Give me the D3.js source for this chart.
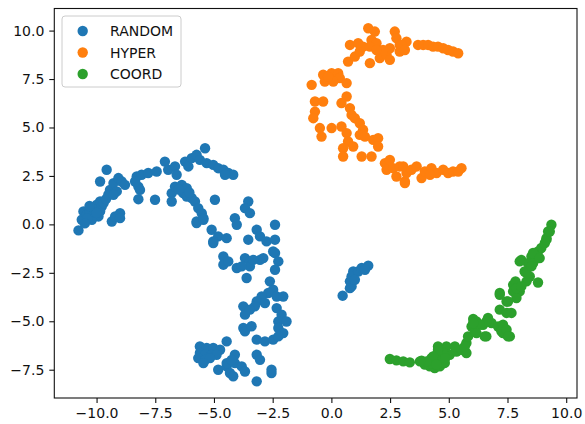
<!DOCTYPE html>
<html>
<head>
<meta charset="utf-8">
<script src="https://cdn.jsdelivr.net/npm/d3@7"></script>
<style>
  body { margin: 0; background: #fff; }
  svg text { font-family: "DejaVu Sans", sans-serif; }
</style>
</head>
<body>
<div id="chart"></div>
<script>
// series names, in drawing order
var seriesNames = ["RANDOM", "HYPER", "COORD"];
var seriesColors = ["#1f77b4", "#ff7f0e", "#2ca02c"];

// tick labels
var xTicks = [-10, -7.5, -5, -2.5, 0, 2.5, 5, 7.5, 10];
var yTicks = [-7.5, -5, -2.5, 0, 2.5, 5, 7.5, 10];

// points, [x, y]
var randomPts = [
  [-10.77,-0.31],[-10.56,0.67],[-10.63,0.24],[-10.42,0.5],[-10.28,0.67],[-10.14,0.84],[-9.99,1.01],[-9.85,1.18],
  [-9.78,0.92],[-9.92,0.41],[-9.85,0.67],[-10.2,0.24],[-9.35,0.15],[-9.21,0.41],[-9.0,0.58],[-9.0,0.32],
  [-10.4,0.3],[-10.0,0.6],[-9.7,1.1],[-10.5,0.05],[-10.3,0.95],[-9.6,1.3],
  [-9.57,2.82],[-9.85,2.21],[-9.43,1.78],[-9.5,1.53],[-9.28,2.13],[-9.07,2.39],[-8.93,2.21],[-8.79,2.04],
  [-9.14,1.7],[-9.28,1.53],[-8.29,2.47],[-8.08,2.56],[-7.8,2.65],[-7.44,2.73],[-8.22,1.95],[-8.15,1.78],
  [-8.22,1.3],[-7.51,1.27],[-8.36,2.21],[-7.09,3.24],[-6.95,2.82],[-6.66,2.99],[-6.59,2.56],[-6.8,1.61],
  [-6.8,1.18],[-6.66,1.95],[-6.37,2.04],[-6.16,1.87],[-6.31,1.61],[-6.16,1.44],[-5.95,1.36],[-5.81,1.18],
  [-6.5,1.8],[-6.05,1.65],
  [-5.67,0.84],[-5.52,0.58],[-5.45,0.32],[-5.74,0.15],[-6.23,3.24],[-6.09,2.99],[-5.95,3.42],[-5.74,3.59],
  [-5.38,3.93],[-5.6,3.33],[-5.31,3.16],[-5.03,3.07],[-4.82,2.9],[-4.6,2.82],[-4.39,2.65],[-4.18,2.56],
  [-4.53,2.56],[-4.96,1.27],[-4.11,0.32],[-5.1,-0.28],[-4.82,-0.62],[-4.46,-0.71],[-5.03,-0.88],
  [-5.74,0.07],[-5.45,0.24],[-3.54,1.18],[-3.68,0.84],[-3.47,0.58],[-4.03,-0.02],[-5.03,-0.96],[-3.54,-0.79],
  [-3.18,-0.28],[-3.04,-0.62],[-2.76,-0.88],[-2.4,-0.02],[-2.4,-0.79],[-2.4,-1.48],[-2.26,-1.91],[-2.4,-2.34],
  [-4.6,-1.66],[-4.6,-2.08],[-4.39,-1.91],[-4.03,-2.25],[-3.68,-1.74],[-3.47,-1.91],[-3.47,-2.17],[-3.04,-1.83],
  [-3.33,-1.83],[-2.9,-1.74],[-3.82,-2.17],[-2.48,-1.4],
  [-3.61,-2.77],[-2.62,-2.94],[-2.48,-3.37],[-2.69,-3.54],[-2.33,-3.72],[-2.05,-3.72],[-2.97,-3.72],[-3.18,-3.98],
  [-2.83,-4.06],[-3.75,-4.23],[-3.68,-4.66],[-3.26,-4.23],[-3.47,-4.4],[-2.33,-4.32],[-2.12,-4.66],[-2.26,-5.01],
  [-1.91,-5.01],[-2.26,-5.35],[-2.05,-5.61],[-3.75,-5.35],[-3.68,-5.52],[-3.4,-5.26],[-3.18,-5.95],[-2.83,-6.04],
  [-2.48,-5.95],[-2.26,-5.78],[-4.46,-6.04],[-5.6,-6.3],[-5.31,-6.38],[-5.03,-6.38],[-4.74,-6.47],[-5.6,-6.64],
  [-5.38,-6.73],[-5.1,-6.73],[-4.89,-6.73],[-5.67,-6.9],[-5.38,-6.99],[-5.17,-6.9],[-5.45,-7.16],[-4.11,-6.73],
  [-4.82,-7.5],[-4.46,-7.33],[-4.32,-7.67],[-4.18,-7.84],[-4.11,-7.16],[-3.82,-7.33],[-3.68,-7.59],[-3.18,-6.73],
  [-3.04,-6.99],[-2.55,-7.5],[-2.55,-7.67],[-3.18,-8.1],[-4.46,-7.16],[-4.25,-6.99],
  [0.48,-3.68],[0.86,-3.2],[0.79,-2.94],[0.86,-2.69],[0.93,-2.43],[1.14,-2.43],[1.29,-2.25],[1.57,-2.13],
  [1.43,-2.34],[0.79,-3.29],[1.0,-2.86]
];

var hyperPts = [
  [-0.84,7.2],[-0.35,7.72],[-0.28,7.37],[0.01,7.8],[0.29,7.8],[0.36,7.55],[0.08,7.37],[0.65,7.29],
  [-0.14,7.63],[-0.7,6.34],[-0.35,6.34],[-0.7,5.82],[-0.77,5.48],[-0.49,4.97],[-0.42,4.53],[0.01,4.97],
  [0.65,6.6],[0.43,6.26],[0.79,6.0],[0.86,5.65],[1.0,5.48],[0.43,5.05],[0.65,4.71],[0.71,4.28],
  [0.5,3.93],[0.93,4.02],[0.5,3.5],[1.21,5.22],[1.35,4.88],[1.21,4.62],[1.43,4.53],[1.78,4.36],
  [1.99,4.45],[1.99,4.02],[1.29,3.5],[1.71,3.5],[0.79,9.26],[0.71,8.4],[1.0,8.66],[1.21,8.92],
  [1.35,9.17],[1.14,9.35],[1.57,10.12],[1.85,9.95],[1.71,9.52],[1.92,9.35],[1.64,9.17],[1.64,8.32],
  [2.06,8.58],[2.35,8.75],[2.49,9.09],[2.7,9.95],[2.77,9.61],[2.91,9.26],[2.91,8.92],[2.2,9.0],
  [2.49,8.49],[1.92,9.0],[2.28,3.16],[2.49,3.33],[2.35,2.82],[2.63,2.9],[2.77,2.47],[2.91,2.99],
  [3.13,2.21],[3.2,2.65],[3.2,9.43],[2.99,9.26],[3.13,9.0],[3.69,9.26],[3.91,9.26],[4.12,9.26],
  [4.33,9.17],[4.54,9.17],[4.76,9.09],[4.97,9.0],[5.18,8.92],[5.4,8.83],
  [3.06,2.99],[3.41,2.82],[3.63,2.99],[3.84,2.39],[3.98,2.73],[4.26,2.9],[4.48,2.65],[4.76,2.82],
  [4.97,2.65],[5.18,2.73],[5.4,2.73],[5.54,2.9],[3.13,2.13],[4.2,2.56]
];

var coordPts = [
  [2.49,-6.95],[2.77,-7.02],[3.06,-7.07],[3.34,-7.12],[3.84,-7.03],[3.98,-7.24],[4.19,-7.33],[4.4,-7.41],
  [4.62,-7.33],[4.83,-7.15],[4.26,-6.9],[4.48,-6.73],[4.69,-6.47],[4.9,-6.3],[4.54,-6.3],[5.04,-6.73],
  [5.33,-6.56],[5.54,-6.47],[5.75,-6.64],[5.75,-6.12],[5.82,-5.78],[5.97,-5.27],[6.18,-5.01],[6.46,-5.18],
  [6.67,-4.83],[6.82,-5.09],[6.6,-5.78],[7.1,-5.27],[7.24,-5.52],[7.31,-5.61],[7.17,-4.4],[7.46,-4.57],
  [6.11,-5.52],[5.26,-6.3],[4.4,-7.0],[4.6,-6.9],[4.75,-6.6],[4.3,-7.2],[4.85,-6.9],
  [9.37,-0.02],[9.23,-0.37],[9.16,-0.71],[9.09,-0.96],[8.94,-1.22],[8.8,-1.4],[8.66,-1.57],[8.52,-1.66],
  [8.09,-1.83],[8.37,-2.0],[8.59,-2.0],[8.23,-2.43],[8.45,-2.69],[8.31,-2.94],[8.8,-3.0],[7.74,-3.12],
  [7.95,-3.2],[8.02,-3.46],[7.74,-3.46],[7.17,-3.54],[7.88,-3.8],[7.46,-3.98],[7.67,-4.57],[6.6,-5.01],
  [7.31,-5.18],[6.04,-4.88],[6.32,-5.18],[6.18,-5.61],[7.46,-5.44],[7.6,-5.78],[6.53,-5.78],
  [8.02,-1.91],[8.59,-1.48],[8.31,-2.51],[7.17,-3.63],[7.52,-3.98],[7.52,-5.78],[6.04,-5.09],[5.68,-6.3],
  [4.54,-6.47],[4.33,-6.81],[4.05,-7.07],[3.77,-7.07],[4.48,-7.24],[7.84,-2.94],[7.88,-3.29],[8.52,-2.17],
  [8.87,-1.74],[9.16,-0.79],[9.3,-0.37],[8.09,-3.2]
];

var allSeries = [randomPts, hyperPts, coordPts];

var W = 585, H = 424;
var margin = { top: 8.5, right: 8, bottom: 26, left: 54.3 };
var width = W - margin.left - margin.right,
    height = H - margin.top - margin.bottom;

var svg = d3.select("#chart").append("svg")
  .attr("width", W)
  .attr("height", H);

var g = svg.append("g")
  .attr("transform", "translate(" + margin.left + "," + margin.top + ")");

var x = d3.scaleLinear().domain([-11.8, 10.46]).range([0, width]);
var y = d3.scaleLinear().domain([-8.96, 11.14]).range([height, 0]);

// points
allSeries.forEach(function (pts, i) {
  g.selectAll(".dot" + i)
    .data(pts)
    .enter().append("circle")
    .attr("class", "dot" + i)
    .attr("cx", function (d) { return x(d[0]); })
    .attr("cy", function (d) { return y(d[1]); })
    .attr("r", 5.2)
    .attr("fill", seriesColors[i]);
});

// axes
var xAxis = g.append("g")
  .attr("transform", "translate(0," + height + ")")
  .call(d3.axisBottom(x).tickValues(xTicks).tickFormat(d3.format(".1f")).tickSize(5).tickSizeOuter(0).tickPadding(5));
var yAxis = g.append("g")
  .call(d3.axisLeft(y).tickValues(yTicks).tickFormat(d3.format(".1f")).tickSize(5).tickSizeOuter(0).tickPadding(5));
[xAxis, yAxis].forEach(function (a) {
  a.select(".domain").remove();
  a.selectAll("text").style("font-size", "14px").style("font-family", "DejaVu Sans").attr("fill", "#111");
  a.selectAll("line").attr("stroke", "#111").attr("stroke-width", 1.1);
});

// frame
g.append("rect")
  .attr("x", 0).attr("y", 0)
  .attr("width", width).attr("height", height)
  .attr("fill", "none")
  .attr("stroke", "#111")
  .attr("stroke-width", 1.1);

// legend
var legend = svg.append("g").attr("transform", "translate(62,16)");
legend.append("rect")
  .attr("width", 119).attr("height", 71)
  .attr("rx", 3)
  .attr("fill", "#fff").attr("fill-opacity", 0.8)
  .attr("stroke", "#cccccc");
var items = legend.selectAll(".item")
  .data(seriesNames)
  .enter().append("g")
  .attr("transform", function (d, i) { return "translate(0," + (15 + i * 21.5) + ")"; });
items.append("circle")
  .attr("cx", 20.7).attr("cy", 0)
  .attr("r", 5.2)
  .attr("fill", function (d, i) { return seriesColors[i]; });
items.append("text")
  .attr("x", 48).attr("y", 5)
  .style("font-size", "14px")
  .attr("fill", "#111")
  .text(function (d) { return d; });
</script>
</body>
</html>
